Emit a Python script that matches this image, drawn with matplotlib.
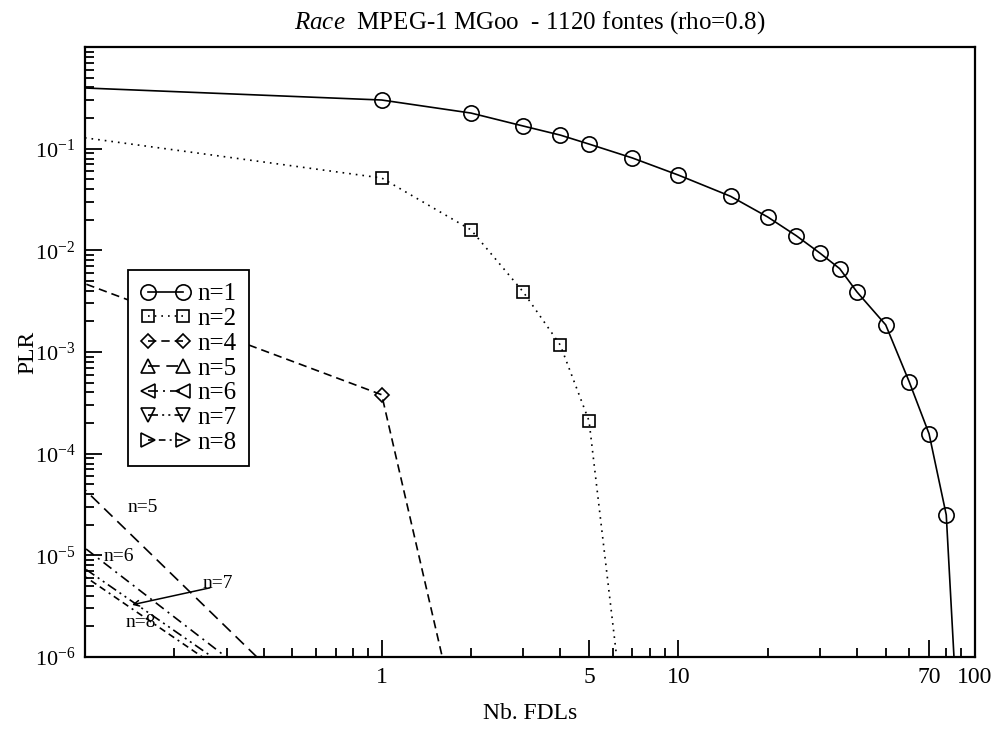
import matplotlib
matplotlib.use("Agg")
import matplotlib.pyplot as plt
from matplotlib.ticker import FixedLocator, FixedFormatter, NullFormatter

plt.rcParams['font.family'] = ['Liberation Serif', 'DejaVu Serif']
plt.rcParams['mathtext.fontset'] = 'custom'
plt.rcParams['mathtext.rm'] = 'Liberation Serif'
plt.rcParams['mathtext.it'] = 'Liberation Serif:italic'

# PLR versus number of FDLs, one series per n
fdl_1 = [0.05, 1, 2, 3, 4, 5, 7, 10, 15, 20, 25, 30, 35, 40, 50, 60, 70, 80, 90]
plr_1 = [0.429, 0.301, 0.224, 0.167, 0.136, 0.111, 0.081, 0.055, 0.034, 0.0213,
         0.0139, 0.0094, 0.0066, 0.0039, 0.00185, 5.1e-4, 1.57e-4, 2.5e-5, 4.5e-8]

fdl_2 = [0.05, 1, 2, 3, 4, 5, 7]
plr_2 = [0.168, 0.0515, 0.0159, 0.0039, 0.00117, 2.1e-4, 4.8e-8]

fdl_4 = [0.05, 1, 2]
plr_4 = [1.0e-2, 3.8e-4, 6.0e-8]

fdl_5 = [0.05, 1]
plr_5 = [3.15e-4, 6.4e-8]

fdl_6 = [0.05, 1]
plr_6 = [5.6e-5, 6.6e-8]

fdl_7 = [0.05, 1]
plr_7 = [3.0e-5, 7.0e-8]

fdl_8 = [0.05, 1]
plr_8 = [2.47e-5, 6.2e-8]

x_major = [1, 5, 10, 70, 100]
x_major_labels = ['1', '5', '10', '70', '100']
x_minor = [0.2, 0.3, 0.4, 0.5, 0.6, 0.7, 0.8, 0.9, 2, 3, 4, 6, 7, 8, 9,
           20, 30, 40, 50, 60, 80, 90]
y_major = [1e-6, 1e-5, 1e-4, 1e-3, 1e-2, 1e-1, 1]
y_major_labels = [r'10$^{-6}$', r'10$^{-5}$', r'10$^{-4}$', r'10$^{-3}$',
                  r'10$^{-2}$', r'10$^{-1}$', '']

fig = plt.figure(figsize=(9.96, 7.29), dpi=100)
ax = fig.add_axes([85 / 996, 72 / 729, 890 / 996, 610 / 729])

series = [
    (fdl_1, plr_1, 'n=1', 'o', '-', 11),
    (fdl_2, plr_2, 'n=2', 's', (0, (1, 3)), 9),
    (fdl_4, plr_4, 'n=4', 'D', (0, (5, 3)), 7.5),
    (fdl_5, plr_5, 'n=5', '^', (0, (7, 4)), 9.5),
    (fdl_6, plr_6, 'n=6', '<', (0, (6, 3, 1.2, 3)), 9.5),
    (fdl_7, plr_7, 'n=7', 'v', (0, (6, 2.5, 1.2, 2.5, 1.2, 2.5)), 9.5),
    (fdl_8, plr_8, 'n=8', '>', (0, (4, 2.5, 4, 2.5, 1.2, 2.5)), 9.5),
]
for xs, ys, lab, mk, ls, ms in series:
    ax.plot(xs, ys, color='black', lw=1.2, linestyle=ls, marker=mk,
            markersize=ms, markerfacecolor='none', markeredgecolor='black',
            markeredgewidth=1.2, label=lab)

ax.set_xscale('log')
ax.set_yscale('log')
ax.set_xlim(0.1, 100)
ax.set_ylim(1e-6, 1)

ax.xaxis.set_major_locator(FixedLocator(x_major))
ax.xaxis.set_major_formatter(FixedFormatter(x_major_labels))
ax.xaxis.set_minor_locator(FixedLocator(x_minor))
ax.xaxis.set_minor_formatter(NullFormatter())
ax.yaxis.set_major_locator(FixedLocator(y_major))
ax.yaxis.set_major_formatter(FixedFormatter(y_major_labels))
ax.yaxis.set_minor_locator(FixedLocator(
    [m * 10.0 ** e for e in range(-6, 0) for m in range(2, 10)]))
ax.yaxis.set_minor_formatter(NullFormatter())

ax.tick_params(which='both', direction='in', top=False, right=False,
               width=1.3, colors='black')
ax.tick_params(axis='x', labelsize=17)
ax.tick_params(axis='y', labelsize=16)
ax.tick_params(which='major', length=12, pad=7)
ax.tick_params(which='minor', length=6.5)
for sp in ax.spines.values():
    sp.set_linewidth(1.6)

ax.set_xlabel('Nb. FDLs', fontsize=17, labelpad=11)
ax.set_ylabel('PLR', fontsize=17, va='center')
ax.yaxis.set_label_coords(-0.064, 0.5)
ax.set_title(r'$\it{Race}$  MPEG-1 MGoo  - 1120 fontes (rho=0.8)',
             fontsize=18, pad=13)

ax.text(0.157, 2.93e-5, 'n=5', fontsize=14, ha='center', va='center')
ax.text(0.13, 9.7e-6, 'n=6', fontsize=14, ha='center', va='center')
ax.text(0.154, 2.2e-6, 'n=8', fontsize=14, ha='center', va='center')
ax.text(0.28, 5.3e-6, 'n=7', fontsize=14, ha='center', va='center')
ax.annotate('', xy=(0.144, 3.26e-6), xytext=(0.2636, 4.79e-6),
            arrowprops=dict(arrowstyle='->', color='black', lw=1.1,
                            shrinkA=0, shrinkB=0))

leg = ax.legend(loc='upper left', bbox_to_anchor=(0.048, 0.634), fontsize=18,
                numpoints=2, handlelength=2.0, handletextpad=0.3,
                labelspacing=0.09, borderpad=0.5, borderaxespad=0,
                fancybox=False, framealpha=1, edgecolor='black')
leg.get_frame().set_linewidth(1.3)

fig.savefig('out.png', dpi=100)
